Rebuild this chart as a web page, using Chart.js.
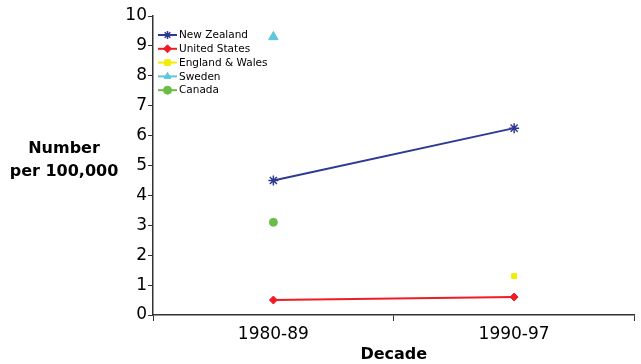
<!DOCTYPE html>
<html>
<head>
<meta charset="utf-8">
<script src="https://cdn.jsdelivr.net/npm/chart.js@4/dist/chart.umd.min.js"></script>
<style>
  html, body { margin: 0; padding: 0; background: #fff; }
  canvas { display: block; }
</style>
</head>
<body>
<canvas id="chart" width="641" height="364"></canvas>
<script>
const decades = ['1980-89', '1990-97'];
const seriesNames = ['New Zealand', 'United States', 'England & Wales', 'Sweden', 'Canada'];
const newZealand = [4.5, 6.25];
const unitedStates = [0.5, 0.6];
const englandWales = [null, 1.3];
const sweden = [9.3, null];
const canada = [3.1, null];
const yTicks = [0, 1, 2, 3, 4, 5, 6, 7, 8, 9, 10];

const FONT = "'DejaVu Sans', Verdana, sans-serif";

// legend drawn inside the plot, line + marker like the original
const insideLegend = {
  id: 'insideLegend',
  afterDraw(chart) {
    const ctx = chart.ctx;
    const x0 = 158, y0 = 35, rowH = 13.8;
    ctx.save();
    chart.data.datasets.forEach((ds, i) => {
      const y = y0 + i * rowH;
      ctx.strokeStyle = ds.borderColor;
      ctx.lineWidth = 2;
      ctx.beginPath();
      ctx.moveTo(x0, y);
      ctx.lineTo(x0 + 19, y);
      ctx.stroke();
      ctx.fillStyle = ds.pointBackgroundColor;
      ctx.strokeStyle = ds.pointBorderColor;
      ctx.lineWidth = ds.pointBorderWidth;
      Chart.helpers.drawPoint(ctx, { pointStyle: ds.pointStyle, radius: 4, rotation: 0, borderWidth: ds.pointBorderWidth }, x0 + 9.5, y);
      ctx.fillStyle = '#000';
      ctx.font = '10.5px ' + FONT;
      ctx.textBaseline = 'middle';
      ctx.textAlign = 'left';
      ctx.fillText(ds.label, x0 + 21, y + 0.5);
    });
    // y axis title, horizontal, two lines
    ctx.font = 'bold 16px ' + FONT;
    ctx.textAlign = 'center';
    ctx.fillStyle = '#000';
    ctx.fillText('Number', 64, 149);
    ctx.fillText('per 100,000', 64, 172);
    ctx.restore();
  }
};

function ds(label, data, color, style, radius, showLine) {
  return {
    label: label,
    data: data,
    borderColor: color,
    backgroundColor: color,
    pointBackgroundColor: color,
    pointBorderColor: color,
    pointBorderWidth: style === 'star' ? 1.5 : 1,
    pointStyle: style,
    pointRadius: radius,
    borderWidth: 2,
    showLine: showLine,
    tension: 0
  };
}

new Chart(document.getElementById('chart'), {
  type: 'line',
  data: {
    labels: decades,
    datasets: [
      ds(seriesNames[0], newZealand, '#2E3A92', 'star', 5, true),
      ds(seriesNames[1], unitedStates, '#EE1C24', 'rectRot', 4, true),
      ds(seriesNames[2], englandWales, '#F2EC00', 'rect', 3.5, false),
      ds(seriesNames[3], sweden, '#5EC6DA', 'triangle', 5.5, false),
      ds(seriesNames[4], canada, '#6ABD45', 'circle', 4, false)
    ]
  },
  options: {
    responsive: false,
    animation: false,
    layout: { padding: { top: 16, right: 3, left: 0, bottom: 0 } },
    plugins: { legend: { display: false }, tooltip: { enabled: false } },
    scales: {
      x: {
        offset: true,
        grid: { offset: true, drawOnChartArea: false, tickLength: 6, color: '#333' },
        border: { color: '#333', width: 1.5 },
        ticks: { color: '#000', font: { family: FONT, size: 17 }, padding: 3 },
        title: { display: true, text: 'Decade', color: '#000', font: { family: FONT, size: 16, weight: 'bold' }, padding: { top: 0, bottom: 0 } },
        afterFit(s) { s.height = 49; s.paddingLeft = 0; s.paddingRight = 0; }
      },
      y: {
        min: 0,
        max: 10,
        afterBuildTicks(s) { s.ticks = yTicks.map(v => ({ value: v })); },
        grid: { drawOnChartArea: false, tickLength: 5, color: '#333' },
        border: { color: '#333', width: 1.5 },
        ticks: { color: '#000', font: { family: FONT, size: 17 }, padding: 1 },
        afterFit(s) { s.width = 153; }
      }
    }
  },
  plugins: [insideLegend]
});
</script>
</body>
</html>
